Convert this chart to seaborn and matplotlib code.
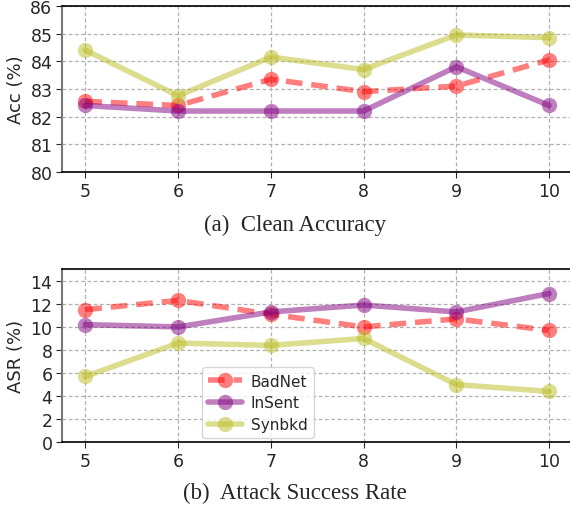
import matplotlib
matplotlib.use("Agg")
import matplotlib.pyplot as plt
import seaborn as sns
import pandas as pd

x = [5, 6, 7, 8, 9, 10]
series = ["BadNet", "InSent", "Synbkd"]
acc_badnet = [82.55, 82.4, 83.35, 82.9, 83.1, 84.05]
acc_insent = [82.4, 82.2, 82.2, 82.2, 83.8, 82.4]
acc_synbkd = [84.4, 82.75, 84.15, 83.7, 84.95, 84.85]
asr_badnet = [11.5, 12.3, 11.1, 10.0, 10.7, 9.7]
asr_insent = [10.2, 10.0, 11.3, 11.9, 11.3, 12.9]
asr_synbkd = [5.7, 8.6, 8.4, 9.0, 5.0, 4.4]

sns.set_style("white")
plt.rcParams['font.family'] = ['DejaVu Sans']

colors = {"BadNet": "#ff0000", "InSent": "#800080", "Synbkd": "#bcbd22"}
styles = {"BadNet": (0, (3, 1.6)), "InSent": "-", "Synbkd": "-"}

fig = plt.figure(figsize=(5.7, 5.1), dpi=100)
ax1 = fig.add_axes([0.109, 0.661, 0.895, 0.3255])
ax2 = fig.add_axes([0.109, 0.131, 0.895, 0.339])

def draw(ax, vals, ylim, yticks, ylabel, legend=False):
    for name, v in zip(series, vals):
        df = pd.DataFrame({"x": x, "y": v})
        sns.lineplot(data=df, x="x", y="y", ax=ax, color=colors[name], alpha=0.5,
                     linewidth=4, marker="o", markersize=11, markeredgewidth=0,
                     label=name if legend else None, legend=False)
        ax.lines[-1].set_linestyle(styles[name])
    ax.set_ylim(*ylim)
    ax.set_yticks(yticks)
    ax.set_xticks(x)
    ax.set_xlim(4.75, 10.25)
    ax.grid(True, linestyle=(0, (3, 2)), color="#b0b0b0", linewidth=0.9)
    ax.set_axisbelow(True)
    ax.set_xlabel("")
    ax.set_ylabel(ylabel, fontsize=13, labelpad=4)
    ax.tick_params(axis='both', labelsize=12.5, length=4, width=0.8, direction='out', left=True, bottom=True, pad=3)
    for s in ["top", "bottom", "right"]:
        ax.spines[s].set_color("black")
        ax.spines[s].set_linewidth(1.2)
    ax.spines["left"].set_color("#777777")
    ax.spines["left"].set_linewidth(1.5)

draw(ax1, [acc_badnet, acc_insent, acc_synbkd], (80, 86), [80, 81, 82, 83, 84, 85, 86], "Acc (%)")
draw(ax2, [asr_badnet, asr_insent, asr_synbkd], (0, 15), [0, 2, 4, 6, 8, 10, 12, 14], "ASR (%)", legend=True)

ax2.legend(loc="lower left", bbox_to_anchor=(0.265, -0.005), fontsize=11, frameon=True,
           handlelength=2.2, borderpad=0.4, labelspacing=0.45, handletextpad=0.6,
           borderaxespad=0.3)

fig.text(0.517, 0.558, "(a)  Clean Accuracy", ha="center", va="center",
         family="Liberation Serif", fontsize=16.5)
fig.text(0.517, 0.033, "(b)  Attack Success Rate", ha="center", va="center",
         family="Liberation Serif", fontsize=16.5)

fig.savefig("out.png", dpi=100)
